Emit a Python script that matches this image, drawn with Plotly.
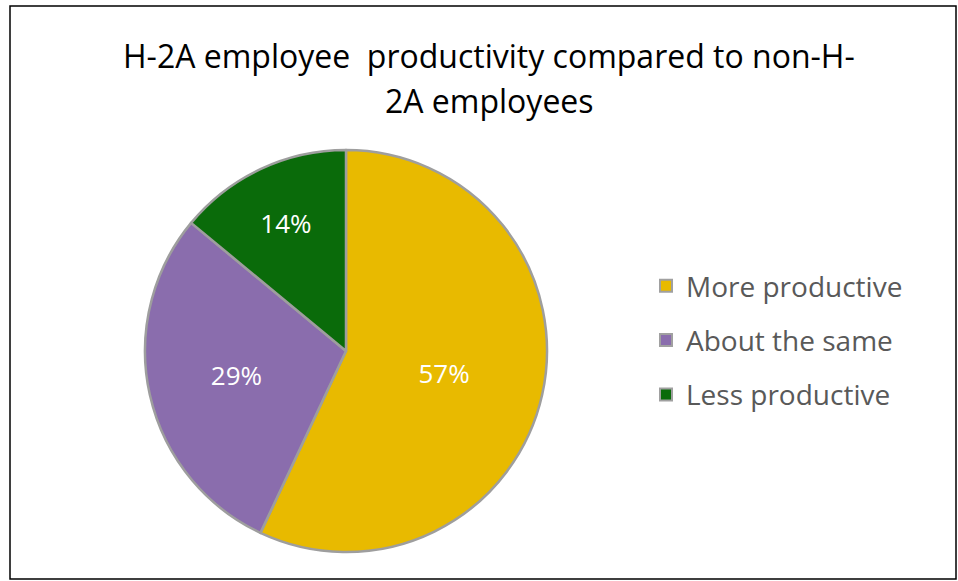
import plotly.graph_objects as go

categories = ["More productive", "About the same", "Less productive"]
values = [57, 29, 14]
colors = ["#E8BA00", "#8A6DAD", "#0A6B0A"]
title_lines = ["H-2A employee  productivity compared to non-H-", "2A employees"]

W, H = 958, 581
FONT = "Open Sans"

fig = go.Figure()
fig.add_trace(go.Pie(
    labels=categories, values=values, sort=False, direction="clockwise", rotation=0,
    marker=dict(colors=colors, line=dict(color="#9E9E9E", width=2.5)),
    texttemplate="%{value}%", textposition="inside", insidetextorientation="horizontal",
    textfont=dict(family=FONT, size=26, color="white"),
    showlegend=False, hoverinfo="label+percent",
    domain=dict(x=[145 / W, 547 / W], y=[1 - 552 / H, 1 - 150 / H]),
))
for c, col in zip(categories, colors):
    fig.add_trace(go.Scatter(
        x=[None], y=[None], mode="markers", name=c, legendgroup=c,
        marker=dict(symbol="square", size=15, color=col, line=dict(color="#A0A0A0", width=1.5)),
    ))

for line, yc in zip(title_lines, [55, 100]):
    fig.add_annotation(text=line, x=489 / W, y=1 - yc / H, xref="paper", yref="paper",
                       xanchor="center", yanchor="middle", showarrow=False,
                       font=dict(family=FONT, size=32, color="#000000"))

fig.add_shape(type="rect", xref="paper", yref="paper", x0=10 / W, x1=956 / W,
              y0=1 - 579 / H, y1=1 - 6 / H, line=dict(color="#000000", width=1.5))

fig.update_layout(
    width=W, height=H, margin=dict(l=0, r=0, t=0, b=0),
    paper_bgcolor="white", plot_bgcolor="white",
    xaxis=dict(visible=False), yaxis=dict(visible=False),
    legend=dict(x=646 / W, y=1 - 261 / H, xanchor="left", yanchor="top",
                font=dict(family=FONT, size=28, color="#595959"),
                tracegroupgap=15, itemsizing="constant", bgcolor="rgba(0,0,0,0)"),
)
fig.write_html("out.html")
